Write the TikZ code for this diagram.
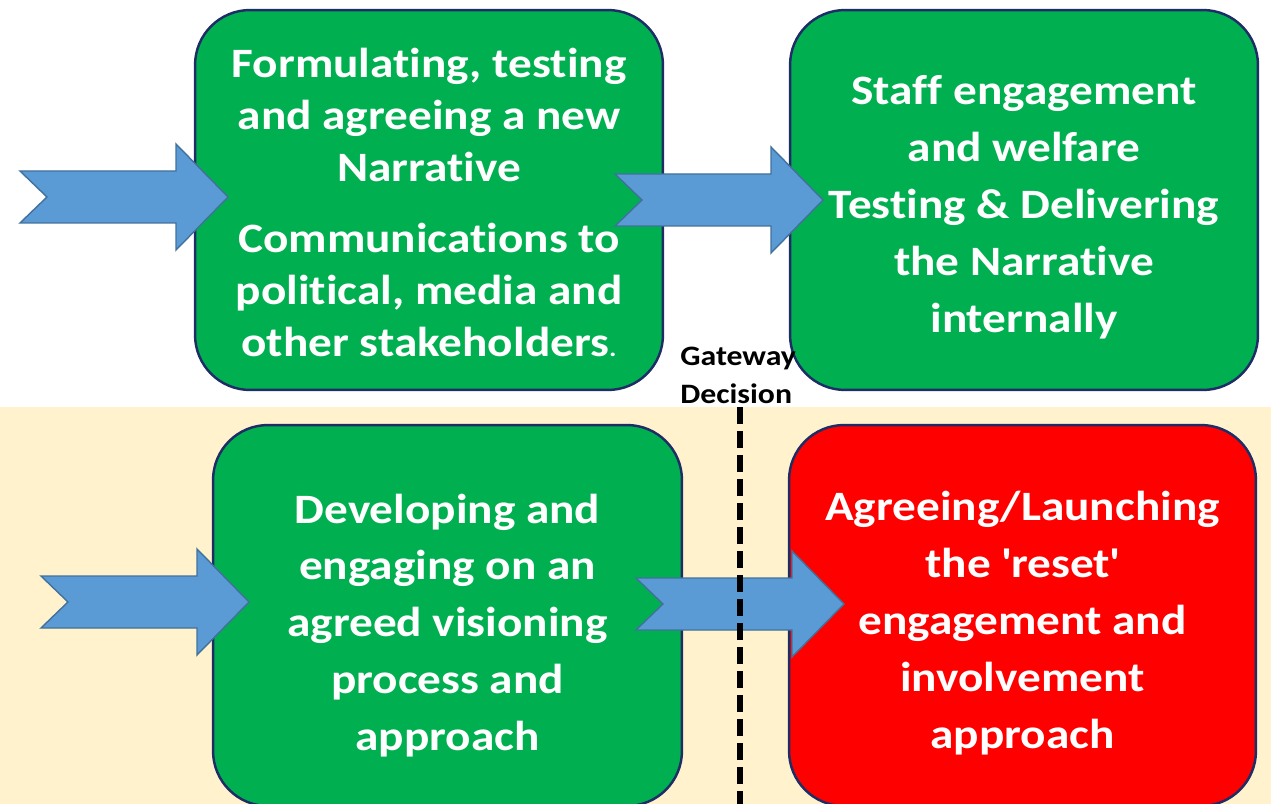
\documentclass[tikz,border=0pt]{standalone}
\usepackage{fontspec}
\setmainfont{Carlito}[FakeStretch=1.13,Ligatures={NoCommon}]
\usepackage{tikz}
\usetikzlibrary{positioning}

\definecolor{stagegreen}{HTML}{00B050}
\definecolor{stagered}{HTML}{FF0000}
\definecolor{stageline}{HTML}{1F2D66}
\definecolor{arrowfill}{HTML}{5B9BD5}
\definecolor{arrowline}{HTML}{41719C}
\definecolor{beige}{HTML}{FFF2CC}

\tikzset{
	stage/.style={draw=stageline,line width=1.4pt,rounded corners=1.1cm,
		text=white,inner sep=0pt,
		font=\bfseries\fontsize{23.8}{32.4}\selectfont},
	blockarrow/.style={fill=arrowfill,draw=arrowline,line width=.8pt,line join=miter},
	pics/chevron/.style={code={
		\draw[blockarrow] (0,-26) -- (156,-26) -- (156,-53) -- (208,0)
			-- (156,53) -- (156,26) -- (0,26) -- (27,0) -- cycle;
	}}
}
% lines of a stage, lowered a little
\newcommand{\stagelines}[2]{\raisebox{-#1}[\height][\depth]{\begin{tabular}{@{}c@{}}#2\end{tabular}}}

\begin{document}
\begin{tikzpicture}[x=.02cm,y=-.02cm]
	\useasboundingbox (0,0) rectangle (1271,804);
	\clip (0,0) rectangle (1271,804);
	%% background of lower row
	\fill[beige] (0,407) rectangle (1271,804);

	%% stages
	\node[stage,fill=stagegreen,minimum width=9.36cm,minimum height=7.6cm,
		font=\bfseries\fontsize{23.8}{29.6}\selectfont] (narr) at (429,200)
		{\stagelines{.13cm}{Formulating, testing\\and agreeing a new\\Narrative\\[.38cm]
		Communications to\\political, media and\\other stakeholders{\fontsize{14}{14}\selectfont .}}};
	\node[stage,fill=stagegreen,minimum width=9.36cm,minimum height=7.6cm] (staff) at (1024,200)
		{\stagelines{.14cm}{Staff engagement\\and welfare\\Testing \& Delivering\\the Narrative\\internally}};
	\node[stage,fill=stagegreen,minimum width=9.38cm,minimum height=7.62cm] (vision) at (447.5,615.5)
		{\stagelines{.2cm}{Developing and\\engaging on an\\agreed visioning\\process and\\approach}};
	\node[stage,fill=stagered,minimum width=9.34cm,minimum height=7.62cm] (reset) at (1022.5,615.5)
		{\stagelines{.15cm}{Agreeing/Launching\\the \textquotesingle reset\textquotesingle\\engagement and\\involvement\\approach}};

	%% arrows
	\pic at (20,197) {chevron};
	\pic at (615,200) {chevron};
	\pic at (41,602) {chevron};
	\pic at (636,604) {chevron};

	%% gateway
	\node[anchor=base west,inner sep=0pt,align=left,
		font=\bfseries\fontsize{16}{21.6}\selectfont] (gate) at (680,403)
		{Gateway\\Decision};
	\coordinate (gtop) at (740,407);
	\coordinate (gbot) at (740,804);
	\draw[line width=3.3pt,dash pattern=on .34cm off .14cm] (gtop) -- (gbot);
\end{tikzpicture}
\end{document}
